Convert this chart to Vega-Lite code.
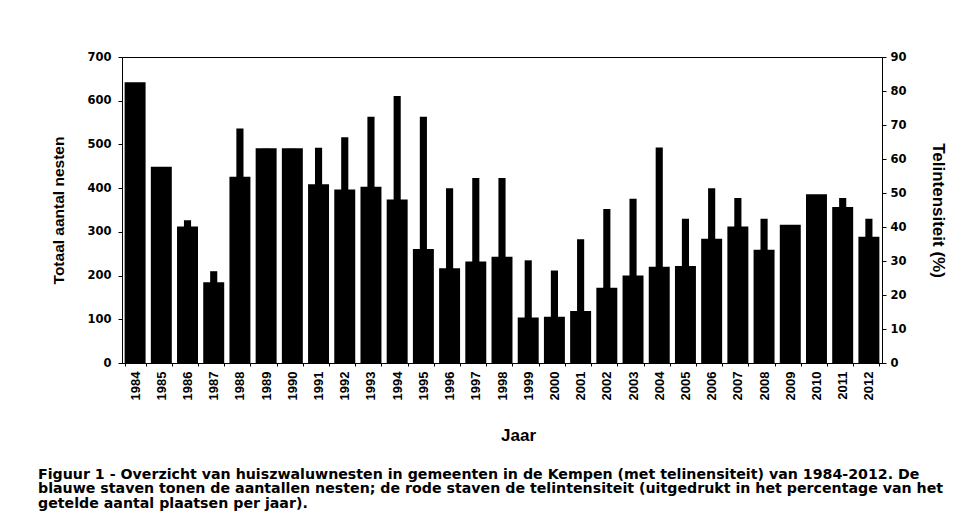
{
  "$schema": "https://vega.github.io/schema/vega-lite/v6.json",
  "width": 760,
  "height": 306,
  "autosize": "none",
  "padding": {"left": 122, "top": 57, "right": 84, "bottom": 167},
  "background": "white",
  "config": {
    "font": "Liberation Sans",
    "view": {"stroke": "black", "strokeWidth": 1},
    "axis": {"domainColor": "black", "tickColor": "black", "labelColor": "black", "titleColor": "black", "grid": false}
  },
  "title": {
    "text": [
      "Figuur 1 - Overzicht van huiszwaluwnesten in gemeenten  in de Kempen (met telinensiteit) van 1984-2012. De",
      "blauwe staven tonen de aantallen nesten; de rode staven de telintensiteit (uitgedrukt in het percentage van het",
      "getelde aantal plaatsen per jaar)."
    ],
    "orient": "bottom",
    "anchor": "start",
    "frame": "group",
    "dx": -84,
    "offset": 24,
    "font": "DejaVu Sans",
    "fontSize": 14.2,
    "fontWeight": "bold",
    "lineHeight": 14.5,
    "color": "black"
  },
  "data": {
    "values": [
      {"jaar": "1984", "nesten": 642, "tel": 82},
      {"jaar": "1985", "nesten": 449, "tel": 57},
      {"jaar": "1986", "nesten": 312, "tel": 42},
      {"jaar": "1987", "nesten": 185, "tel": 27},
      {"jaar": "1988", "nesten": 426, "tel": 69},
      {"jaar": "1989", "nesten": 491, "tel": 63},
      {"jaar": "1990", "nesten": 491, "tel": 63},
      {"jaar": "1991", "nesten": 409, "tel": 63.3},
      {"jaar": "1992", "nesten": 397, "tel": 66.4},
      {"jaar": "1993", "nesten": 403, "tel": 72.4},
      {"jaar": "1994", "nesten": 374, "tel": 78.5},
      {"jaar": "1995", "nesten": 261, "tel": 72.4},
      {"jaar": "1996", "nesten": 217, "tel": 51.4},
      {"jaar": "1997", "nesten": 232, "tel": 54.4},
      {"jaar": "1998", "nesten": 243, "tel": 54.4},
      {"jaar": "1999", "nesten": 104, "tel": 30.2},
      {"jaar": "2000", "nesten": 106, "tel": 27.2},
      {"jaar": "2001", "nesten": 119, "tel": 36.4},
      {"jaar": "2002", "nesten": 172, "tel": 45.3},
      {"jaar": "2003", "nesten": 200, "tel": 48.3},
      {"jaar": "2004", "nesten": 220, "tel": 63.4},
      {"jaar": "2005", "nesten": 222, "tel": 42.4},
      {"jaar": "2006", "nesten": 284, "tel": 51.4},
      {"jaar": "2007", "nesten": 312, "tel": 48.5},
      {"jaar": "2008", "nesten": 259, "tel": 42.4},
      {"jaar": "2009", "nesten": 316, "tel": 40},
      {"jaar": "2010", "nesten": 386, "tel": 49},
      {"jaar": "2011", "nesten": 357, "tel": 48.5},
      {"jaar": "2012", "nesten": 289, "tel": 42.4}
    ]
  },
  "encoding": {
    "x": {
      "field": "jaar",
      "type": "ordinal",
      "scale": {"paddingInner": 0.2, "paddingOuter": 0.1},
      "axis": {
        "title": "Jaar",
        "titleFont": "Liberation Sans",
        "titleFontSize": 17,
        "titleFontWeight": "bold",
        "titlePadding": 28,
        "titleX": 396,
        "labelAngle": 270,
        "labelFont": "Liberation Sans",
        "labelFontSize": 13,
        "labelFontWeight": "bold",
        "labelPadding": 5,
        "tickBand": "extent",
        "tickSize": 3
      }
    }
  },
  "layer": [
    {
      "mark": {"type": "bar", "color": "black"},
      "encoding": {
        "y": {
          "field": "nesten",
          "type": "quantitative",
          "scale": {"domain": [0, 700]},
          "axis": {
            "orient": "left",
            "title": "Totaal aantal nesten",
            "titleFont": "Liberation Sans",
            "titleFontSize": 15.5,
            "titleFontWeight": "bold",
            "titlePadding": 20,
            "values": [0, 100, 200, 300, 400, 500, 600, 700],
            "labelFont": "DejaVu Sans",
            "labelFontSize": 11.5,
            "labelFontWeight": "bold",
            "tickSize": 4,
            "labelPadding": 7
          }
        }
      }
    },
    {
      "mark": {"type": "bar", "color": "black", "width": {"band": 0.34}},
      "encoding": {
        "y": {
          "field": "tel",
          "type": "quantitative",
          "scale": {"domain": [0, 90]},
          "axis": {
            "orient": "right",
            "title": "Telintensiteit (%)",
            "titleFont": "Liberation Sans",
            "titleFontSize": 17,
            "titleFontWeight": "bold",
            "titlePadding": 22,
            "values": [0, 10, 20, 30, 40, 50, 60, 70, 80, 90],
            "labelFont": "DejaVu Sans",
            "labelFontSize": 11.5,
            "labelFontWeight": "bold",
            "tickSize": 4,
            "labelPadding": 4
          }
        }
      }
    }
  ],
  "resolve": {"scale": {"y": "independent"}}
}
